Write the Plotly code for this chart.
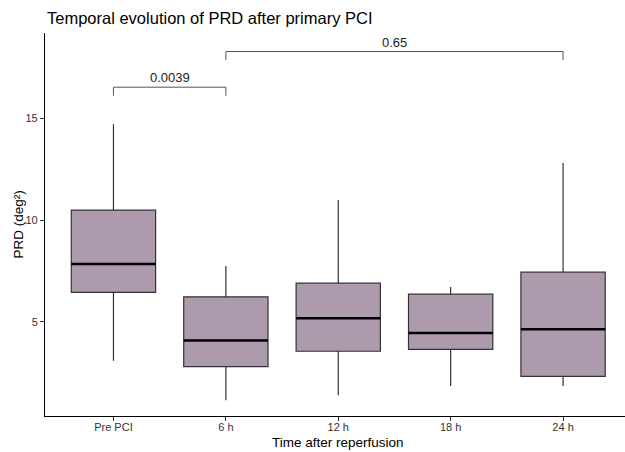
import plotly.graph_objects as go

# Box-plot summary of PRD (deg²) at each time point
categories = ["Pre PCI", "6 h", "12 h", "18 h", "24 h"]
whisker_low = [3.1, 1.15, 1.4, 1.85, 1.85]
q1 = [6.45, 2.81, 3.56, 3.65, 2.33]
median = [7.84, 4.09, 5.18, 4.46, 4.64]
q3 = [10.49, 6.23, 6.90, 6.36, 7.44]
whisker_high = [14.7, 7.75, 10.98, 6.72, 12.8]

# Pairwise comparisons and their p-values
comparisons = [("Pre PCI", "6 h"), ("6 h", "24 h")]
p_values = ["0.0039", "0.65"]
bracket_heights = [16.52, 18.27]
bracket_drop = 0.42

FONT = "Liberation Sans, Arial, Helvetica, sans-serif"
FILL = "#AD9AAD"
BOX_WIDTH = 0.75

xpos = list(range(len(categories)))

fig = go.Figure()

fig.add_trace(go.Box(
    x=xpos,
    q1=q1,
    median=median,
    q3=q3,
    lowerfence=whisker_low,
    upperfence=whisker_high,
    width=BOX_WIDTH,
    fillcolor=FILL,
    line=dict(color="#333333", width=1.2),
    whiskerwidth=0,
    boxpoints=False,
    hoverinfo="skip",
    showlegend=False,
))

# Thick median bars drawn on top of the boxes
mx, my = [], []
for xi, m in zip(xpos, median):
    mx += [xi - BOX_WIDTH / 2, xi + BOX_WIDTH / 2, None]
    my += [m, m, None]
fig.add_trace(go.Scatter(
    x=mx, y=my, mode="lines",
    line=dict(color="black", width=2.6),
    hoverinfo="skip", showlegend=False,
))

# Significance brackets
shapes = []
annotations = []
for (a, b), p, h in zip(comparisons, p_values, bracket_heights):
    xa, xb = categories.index(a), categories.index(b)
    shapes.append(dict(
        type="path",
        path=f"M {xa},{h - bracket_drop} L {xa},{h} L {xb},{h} L {xb},{h - bracket_drop}",
        xref="x", yref="y",
        line=dict(color="#555555", width=1),
    ))
    annotations.append(dict(
        x=(xa + xb) / 2, y=h, xref="x", yref="y",
        text=p, showarrow=False, yanchor="bottom", yshift=0,
        font=dict(family=FONT, size=13, color="#222222"),
    ))

W, H = 625, 452
L, R, T, B = 44.5, 0, 33.3, 36.3

# Axis titles
annotations.append(dict(
    x=(337.5 - L) / (W - L - R), y=-(442.5 - (H - B)) / (H - T - B),
    xref="paper", yref="paper", text="Time after reperfusion",
    showarrow=False, xanchor="center", yanchor="middle",
    font=dict(family=FONT, size=13.5, color="black"),
))
annotations.append(dict(
    x=-(L - 17.5) / (W - L - R), y=0.5,
    xref="paper", yref="paper", text="PRD (deg²)", textangle=-90,
    showarrow=False, xanchor="center", yanchor="middle",
    font=dict(family=FONT, size=13.5, color="black"),
))

fig.update_layout(
    width=W, height=H,
    margin=dict(l=L, r=R, t=T, b=B, pad=0),
    paper_bgcolor="white", plot_bgcolor="white",
    title=dict(
        text="Temporal evolution of PRD after primary PCI",
        x=47 / W, xanchor="left", xref="container",
        y=1 - 18.3 / H, yanchor="middle", yref="container",
        font=dict(family=FONT, size=16.5, color="black"),
    ),
    shapes=shapes,
    annotations=annotations,
    showlegend=False,
)

fig.update_xaxes(
    range=[-0.609, 4.551],
    tickmode="array", tickvals=xpos, ticktext=categories,
    showline=True, linecolor="black", linewidth=1.1,
    ticks="outside", ticklen=4, tickcolor="#333333", tickwidth=1,
    ticklabelstandoff=-3,
    tickfont=dict(family=FONT, size=11, color="#333333"),
    showgrid=False, zeroline=False,
)
fig.update_yaxes(
    range=[0.383, 19.18],
    tickmode="array", tickvals=[5, 10, 15],
    showline=True, linecolor="black", linewidth=1.1,
    ticks="outside", ticklen=4, tickcolor="#333333", tickwidth=1,
    tickfont=dict(family=FONT, size=11, color="#333333"),
    showgrid=False, zeroline=False,
)

fig.write_html("out.html")
